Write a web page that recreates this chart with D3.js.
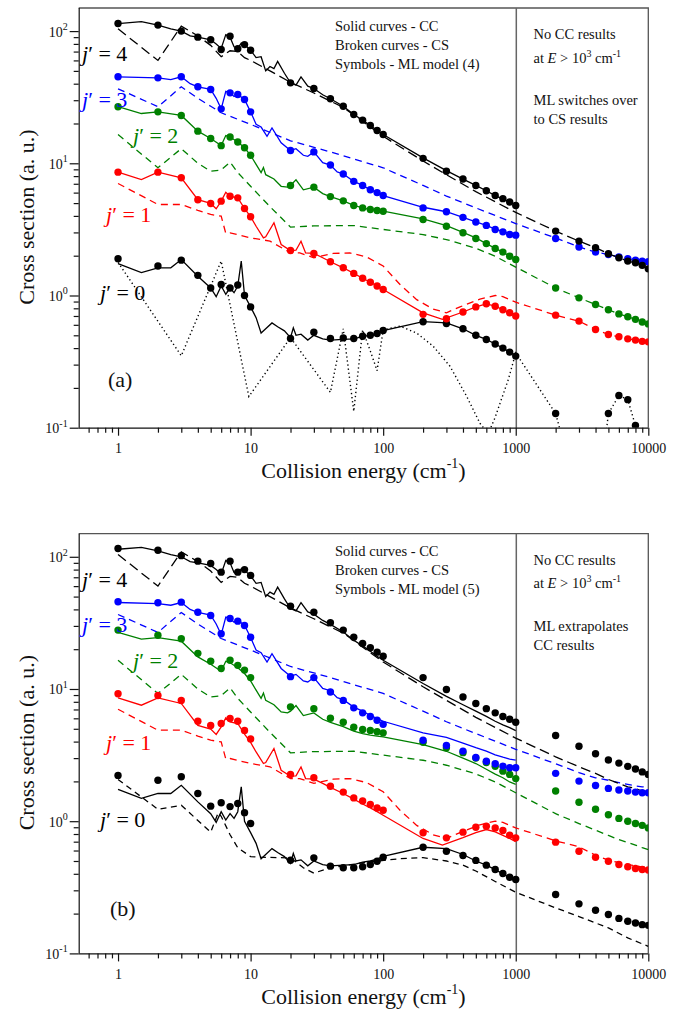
<!DOCTYPE html>
<html><head><meta charset="utf-8">
<script src="https://cdn.jsdelivr.net/npm/d3@7"></script>
<style>
body{margin:0;background:#fff;}
text{font-family:"Liberation Serif","Times New Roman",serif;fill:#111;}
</style></head><body>
<svg id="chart" width="681" height="1014"></svg>
<script>
// ---------------- DATA ----------------
const mlEnergies = [1,2,3,4,5,6,7,8,9,10,20,30,40,50,60,70,80,90,100,200,300,400,500,600,700,800,900,1000,2000,3000,4000,5000,6000,7000,8000,9000,10000];
const xTickValues = [1,10,100,1000,10000];
const yTickValues = [0.1,1,10,100];
const yTickExponents = ["-1","0","1","2"];

// ML model (4) – panel (a)
const mlA4 = [114,111,100,90,86,72.6,91.5,73.5,79,71.7, 40.6,36.8,30.8,27,23.4,21.2,19.3,17.7,16.5, 10.9,8.7,7.6,6.8,6.2,5.7,5.4,5.1,4.8, 3.07,2.58,2.3,2.07,1.93,1.82,1.77,1.69,1.59];
const mlA3 = [45.1,44.3,45.1,37.9,36.2,25.8,34.1,33.1,30.4,24.5, 12.5,12.2,9.7,8.3,7.3,6.8,6.3,6.0,5.7, 4.6,4.3,3.9,3.6,3.39,3.16,3.03,2.89,2.86, 2.70,2.33,2.13,2.04,1.96,1.90,1.85,1.82,1.80];
const mlA2 = [26.8,24.5,23,17.5,15.4,13.6,15.8,14.5,13.1,11.5, 6.8,6.6,5.6,5.2,4.8,4.6,4.47,4.4,4.34, 3.76,3.34,2.98,2.7,2.47,2.27,2.13,1.98,1.87, 1.14,0.96,0.855,0.78,0.726,0.69,0.66,0.63,0.61];
const mlA1 = [8.57,8.57,7.77,5.3,4.97,5.17,5.63,5.48,4.55,3.94, 2.19,2.08,1.8,1.62,1.47,1.35,1.26,1.18,1.11, 0.72,0.667,0.75,0.82,0.865,0.83,0.78,0.74,0.70, 0.71,0.64,0.553,0.507,0.487,0.47,0.46,0.45,0.446];
const mlA0 = [1.90,1.67,1.85,1.42,1.14,1.21,1.14,1.2,1.0,0.82, 0.473,0.528,0.473,0.478,0.473,0.492,0.5,0.516,0.543, 0.633,0.614,0.56,0.5,0.465,0.43,0.4,0.373,0.348, 0.128,null,null,0.128,0.175,0.163,0.104,null,null];

// ML model (5) – panel (b)
const mlB4 = [115.6,112,102,92.7,89,76.5,92.7,76.5,80,72.3, 42.3,38.1,31.7,27.9,24.6,22.1,20.5,19,17.7, 12.2,9.9,8.7,7.77,7.1,6.6,6.2,5.9,5.6, 4.45,3.69,3.24,2.9,2.75,2.6,2.48,2.36,2.26];
const mlB3 = [45.7,44.9,45.4,38.1,36,26.2,34.1,32.6,30.2,24.6, 12.4,12.2,9.5,8.2,7.2,6.6,6.2,5.8,5.4, 4.1,3.74,3.39,3.03,2.84,2.72,2.61,2.54,2.54, 2.3,2.01,1.86,1.77,1.72,1.69,1.66,1.64,1.64];
const mlB2 = [27.9,25.5,24,18.6,16.2,14.3,16.5,15.1,13.9,12.2, 7.33,7.1,6.0,5.6,5.14,4.94,4.86,4.75,4.66, 3.95,3.6,3.3,3.0,2.78,2.6,2.39,2.26,2.1, 1.69,1.39,1.23,1.12,1.05,1.0,0.96,0.93,0.89];
const mlB1 = [9.2,8.93,8.18,5.7,5.3,5.48,5.98,5.7,4.86,4.18, 2.26,2.13,1.84,1.66,1.5,1.42,1.34,1.26,1.21, 0.817,0.748,0.826,0.9,0.917,0.89,0.85,0.783,0.748, 0.694,0.593,0.534,0.498,0.47,0.452,0.439,0.431,0.427];
const mlB0 = [2.22,2.04,2.17,1.62,1.3,1.38,1.29,1.36,1.16,0.96, 0.507,0.528,0.457,0.444,0.444,0.452,0.47,0.498,0.534, 0.636,0.593,0.55,0.505,0.465,0.431,0.402,0.377,0.362, 0.279,0.237,0.212,0.197,0.184,0.175,0.17,0.165,0.163];

// CC (solid) curves [energy, cross section]
const cc4 = [[1,114],[1.5,118],[2,111],[2.5,104],[3,100],[3.5,92],[4,90],[5,86],[5.5,80],[6,74],[6.5,94],[7,90],[7.5,76],[8,74],[8.5,81],[9,79],[10,71.7],[11,63],[12,64],[13,50],[14,54],[15,52],[16,59],[18,48],[20,40.6],[22,39],[24,45],[27,38.3],[30,36.8],[35,33],[40,30.8],[50,27],[60,23.4],[70,21.2],[80,19.3],[90,17.7],[100,16.5],[200,11],[300,8.8],[400,7.6],[500,6.8],[600,6.2],[700,5.7],[800,5.35],[900,5.1],[1000,4.85]];
const cc3 = [[1,45.1],[2,44.3],[2.5,43],[3,45.1],[3.5,40],[4,37.9],[5,36.2],[5.5,31],[6,25.8],[6.5,35],[7,34.1],[7.5,32],[8,33.1],[9,30.4],[10,24.5],[11,19.7],[12,18.8],[13.3,16],[14.5,18.5],[17,14.3],[20,12.5],[22,12.9],[25,11.5],[27,11.3],[30,12.2],[35,10.1],[40,9.7],[45,8.6],[50,8.3],[60,7.3],[70,6.8],[80,6.3],[90,6.0],[100,5.7],[200,4.65],[300,4.3],[400,3.9],[500,3.6],[600,3.39],[700,3.18],[800,3.05],[900,2.95],[1000,2.9]];
const cc2 = [[1,26.8],[1.5,23.8],[2,24.5],[3,23],[4,17.5],[5,15.4],[6,13.6],[6.5,16.2],[7,15.8],[8,14.5],[9,13.1],[10,11.5],[11,9.8],[12,8.5],[12.5,9.3],[13,8.2],[15,7.6],[17,6.7],[19,6.6],[20,6.8],[22,7.5],[25,6.3],[30,6.6],[35,5.9],[40,5.6],[50,5.2],[60,4.8],[70,4.6],[80,4.47],[90,4.4],[100,4.34],[200,3.8],[300,3.38],[400,3.0],[500,2.73],[600,2.47],[700,2.27],[800,2.13],[900,1.98],[1000,1.9]];
const cc1 = [[1,8.57],[1.5,7.54],[2,8.57],[3,7.77],[4,5.3],[5,4.97],[5.5,4.53],[6,5.17],[6.5,6.04],[7,5.63],[8,5.48],[9,4.55],[10,3.94],[11,3.34],[12.5,2.73],[13,2.78],[15,3.55],[17,2.43],[20,2.19],[22,2.2],[24,2.57],[26,2.1],[30,2.08],[35,1.93],[40,1.8],[50,1.62],[60,1.47],[70,1.35],[80,1.26],[90,1.18],[100,1.11],[200,0.74],[280,0.66],[400,0.75],[500,0.82],[600,0.865],[700,0.83],[800,0.78],[900,0.74],[1000,0.70]];
const cc0 = [[1,1.74],[1.5,1.49],[2,1.62],[2.5,1.62],[3,1.87],[4,1.4],[5,1.14],[5.5,0.98],[6,1.18],[6.5,1.02],[7,1.14],[7.5,1.05],[8,1.18],[8.5,1.82],[9,1.0],[10,0.82],[11,0.68],[12,0.52],[13,0.56],[14.5,0.62],[16,0.58],[18,0.54],[20,0.48],[21,0.57],[22,0.5],[24,0.51],[27,0.46],[30,0.5],[35,0.47],[40,0.46],[50,0.465],[60,0.47],[70,0.49],[80,0.5],[90,0.516],[100,0.543],[200,0.635],[300,0.62],[400,0.56],[500,0.5],[600,0.465],[700,0.43],[800,0.40],[900,0.373],[1000,0.352]];

// CS (broken) curves
const cs4 = [[1,104],[2,60],[3,109],[4,92],[5,78],[6,64],[7,71],[8,70],[9,63],[10,60],[14,50],[20,41],[30,34],[40,29.5],[50,26.5],[100,16],[200,10.4],[300,8.2],[500,6.1],[1000,4.25],[2000,3.07],[3000,2.58],[4000,2.3],[5000,2.07],[6000,1.93],[7000,1.82],[8000,1.77],[9000,1.69],[10000,1.59]];
const cs3 = [[1,36.6],[2,26.8],[3,37.9],[4,31],[5,27],[6,24.1],[10,19.7],[20,14.8],[40,12.2],[100,9.25],[200,6.8],[300,5.65],[500,4.6],[1000,3.5],[2000,2.72],[3000,2.33],[4000,2.13],[5000,2.04],[6000,1.96],[7000,1.9],[8000,1.85],[9000,1.82],[10000,1.80]];
const cs2 = [[1,16.5],[2,9.25],[3,12.9],[4,10],[5,8.7],[6,8.9],[7,10.2],[8,8.5],[10,6.7],[14,4.7],[20,3.29],[30,3.36],[60,3.38],[100,3.16],[200,2.89],[300,2.65],[500,2.28],[700,1.98],[1000,1.64],[2000,1.14],[3000,0.96],[4000,0.855],[5000,0.78],[6000,0.726],[7000,0.69],[8000,0.66],[9000,0.63],[10000,0.61]];
const cs1 = [[1,7.03],[2,4.88],[3,4.88],[4,4.4],[5,4.1],[6,3.98],[6.5,2.95],[7,2.98],[10,2.73],[14,2.58],[20,2.1],[23.5,2.1],[30,1.93],[42,2.08],[56,2.1],[75,1.96],[100,1.67],[134,1.21],[179,0.93],[238,0.79],[300,0.74],[380,0.82],[537,0.94],[700,1.0],[800,0.98],[1000,0.89],[2000,0.71],[3000,0.64],[4000,0.553],[5000,0.507],[6000,0.487],[7000,0.47],[8000,0.46],[9000,0.45],[10000,0.446]];
// j'=0 : dotted curve in panel (a), CS broken curve in panel (b)
const dotted0 = [[1,1.78],[3,0.35],[6,1.82],[9.7,0.172],[20,0.48],[40,0.185],[50,0.56],[60,0.133],[70,0.55],[80,0.38],[90,0.27],[100,0.55],[134,0.586],[179,0.52],[238,0.414],[319,0.292],[426,0.173],[537,0.108],[620,0.09],[700,0.12],[763,0.154],[880,0.232],[1000,0.368],[2000,0.128],[2200,0.09],[4800,0.09],[5000,0.128],[6000,0.175],[7000,0.163],[8000,0.104],[8200,0.09]];
const cs0 = [[1,2.07],[2,1.23],[3,1.32],[5,0.826],[5.7,1.16],[6,1.09],[7,0.79],[8,0.63],[10,0.54],[12,0.534],[20,0.528],[25,0.444],[30,0.405],[40,0.444],[75,0.49],[134,0.52],[200,0.53],[300,0.5],[400,0.465],[500,0.42],[700,0.35],[1000,0.29],[2000,0.221],[3000,0.19],[4000,0.17],[5000,0.156],[7000,0.131],[10000,0.113]];

const jLabels = ["0","1","2","3","4"];
const colors = ["#000000","#ff0000","#008000","#0000ff","#000000"];

// ---------------- DRAW ----------------
const svg = d3.select("#chart");
const plotLeft = 78.7, plotRight = 648.3, plotTop = 8, plotBottom = 427.7;
const x = d3.scaleLog().domain([0.505, 10000]).range([plotLeft, plotRight]);
const y = d3.scaleLog().domain([0.1, 149.5]).range([plotBottom, plotTop]);
const line = d3.line().x(d => x(d[0])).y(d => y(d[1]));

const xMinor = [];
[0.1,1,10,100,1000].forEach(d => { for (let k=2;k<=9;k++){ const v=k*d; if (v>0.505 && v<10000) xMinor.push(v);} });
const yMinor = [];
[0.1,1,10,100].forEach(d => { for (let k=2;k<=9;k++){ const v=k*d; if (v<149.5) yMinor.push(v);} });

const panels = [
  {off:0, id:"a", label:"(a)", labelPos:[108,387],
   ml:[mlA0,mlA1,mlA2,mlA3,mlA4], zero:dotted0, zeroDash:"1.3,2.8",
   model:"Symbols - ML model (4)", r1:"ML switches over", r2:"to CS results",
   jPos:[[100,300],[106,221.7],[133,143],[82,106.7],[82,61]]},
  {off:525.7, id:"b", label:"(b)", labelPos:[110,390],
   ml:[mlB0,mlB1,mlB2,mlB3,mlB4], zero:cs0, zeroDash:"6,4.5",
   model:"Symbols - ML model (5)", r1:"ML extrapolates", r2:"CC results",
   jPos:[[100,301.3],[106,224],[133,142.6],[82,106],[82,61.6]]}
];

const ccs = [cc0,cc1,cc2,cc3,cc4];
const css = [null,cs1,cs2,cs3,cs4];

panels.forEach(p => {
  const g = svg.append("g").attr("transform", `translate(0,${p.off})`);
  const clipId = "clip-" + p.id;
  g.append("clipPath").attr("id", clipId).append("rect")
    .attr("x", plotLeft).attr("y", plotTop).attr("width", plotRight-plotLeft).attr("height", plotBottom-plotTop);

  // frame top/right
  g.append("path").attr("d", `M${plotLeft},${plotTop}H${plotRight}V${plotBottom}`)
    .attr("fill","none").attr("stroke","#555").attr("stroke-width",1.3);
  // vertical separator near 1000
  g.append("line").attr("x1", x(1010)).attr("x2", x(1010)).attr("y1", plotTop).attr("y2", plotBottom)
    .attr("stroke","#666").attr("stroke-width",1.5);

  // axes
  const gx = g.append("g").attr("transform", `translate(0,${plotBottom})`)
    .call(d3.axisBottom(x).tickValues(xTickValues).tickFormat(d3.format("d")).tickSize(8).tickSizeOuter(0));
  g.append("g").attr("transform", `translate(0,${plotBottom})`)
    .call(d3.axisBottom(x).tickValues(xMinor).tickFormat("").tickSize(5).tickSizeOuter(0))
    .call(s => s.select(".domain").remove());
  gx.select(".domain").attr("d", `M${plotLeft},0.5H${plotRight}`);
  gx.selectAll("text").attr("font-size", 14).attr("font-family","Liberation Serif").attr("fill","#111").attr("dy","1.05em");
  const gy = g.append("g").attr("transform", `translate(${plotLeft},0)`)
    .call(d3.axisLeft(y).tickValues(yTickValues).tickFormat("").tickSize(9).tickSizeOuter(0));
  g.append("g").attr("transform", `translate(${plotLeft},0)`)
    .call(d3.axisLeft(y).tickValues(yMinor).tickFormat("").tickSize(5).tickSizeOuter(0))
    .call(s => s.select(".domain").remove());
  gy.select(".domain").attr("d", `M0.5,${plotTop}V${plotBottom}`);
  g.selectAll(".tick line, .domain").attr("stroke","#111").attr("stroke-width",1.2);

  // y tick labels 10^n
  yTickValues.forEach((v,i) => {
    const t = g.append("text").attr("x", plotLeft-11).attr("y", y(v)+5.5).attr("text-anchor","end").attr("font-size",14);
    t.append("tspan").text("10");
    t.append("tspan").attr("font-size",10).attr("dy",-6.5).text(yTickExponents[i]);
  });

  // axis titles
  const xt = g.append("text").attr("x", (plotLeft+plotRight)/2).attr("y", 478).attr("text-anchor","middle").attr("font-size",22);
  xt.append("tspan").text("Collision energy (cm");
  xt.append("tspan").attr("font-size",14).attr("dy",-10).text("-1");
  xt.append("tspan").attr("dy",10).text(")");
  g.append("text").attr("transform","translate(34,217) rotate(-90)").attr("text-anchor","middle").attr("font-size",22)
    .text("Cross section (a. u.)");

  // curves
  const cg = g.append("g").attr("clip-path", `url(#${clipId})`);
  // j'=0 broken/dotted
  cg.append("path").datum(p.zero).attr("d", line).attr("fill","none").attr("stroke","#000")
    .attr("stroke-width", p.id==="a"?1.4:1.3).attr("stroke-dasharray", p.zeroDash);
  for (let j=1;j<=4;j++){
    cg.append("path").datum(css[j]).attr("d", line).attr("fill","none").attr("stroke",colors[j])
      .attr("stroke-width",1.3).attr("stroke-dasharray", j===4 ? "10,5" : "7,5");
  }
  for (let j=0;j<=4;j++){
    cg.append("path").datum(ccs[j]).attr("d", line).attr("fill","none").attr("stroke",colors[j]).attr("stroke-width",1.3);
  }
  // ML symbols
  for (let j=0;j<=4;j++){
    const pts = mlEnergies.map((e,i)=>[e,p.ml[j][i]]).filter(d=>d[1]!==null);
    cg.append("g").selectAll("circle").data(pts).join("circle")
      .attr("cx", d=>x(d[0])).attr("cy", d=>y(d[1])).attr("r",3.7).attr("fill",colors[j]);
  }

  // j' labels
  for (let j=0;j<=4;j++){
    const t = g.append("text").attr("x", p.jPos[j][0]).attr("y", p.jPos[j][1]).attr("font-size",22);
    t.append("tspan").attr("font-style","italic").attr("fill",colors[j]).text("j");
    t.append("tspan").attr("fill",colors[j]).text("′ = " + jLabels[j]);
  }
  g.append("text").attr("x", p.labelPos[0]).attr("y", p.labelPos[1]).attr("font-size",22).text(p.label);

  // legend notes
  const notes = ["Solid curves - CC","Broken curves - CS",p.model];
  notes.forEach((s,i)=> g.append("text").attr("x",335).attr("y",[30.5,49.5,68.5][i]).attr("font-size",14.5).text(s));
  g.append("text").attr("x",533.5).attr("y",39).attr("font-size",14.5).text("No CC results");
  const at = g.append("text").attr("x",533.5).attr("y",62.5).attr("font-size",14.5);
  at.append("tspan").text("at ");
  at.append("tspan").attr("font-style","italic").text("E");
  at.append("tspan").text(" > 10");
  at.append("tspan").attr("font-size",10).attr("dy",-6).text("3");
  at.append("tspan").attr("dy",6).text(" cm");
  at.append("tspan").attr("font-size",10).attr("dy",-6).text("-1");
  g.append("text").attr("x",533.5).attr("y",105).attr("font-size",14.5).text(p.r1);
  g.append("text").attr("x",533.5).attr("y",124).attr("font-size",14.5).text(p.r2);
});
</script>
</body></html>
